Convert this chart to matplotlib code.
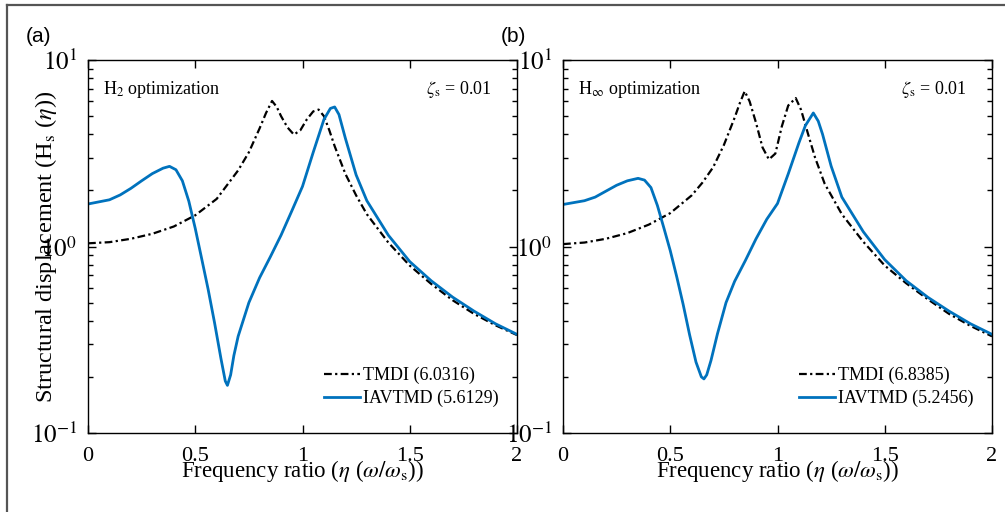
import math
import matplotlib
matplotlib.use('Agg')
import matplotlib.pyplot as plt
from matplotlib.lines import Line2D
from matplotlib.ticker import LogLocator, FixedLocator, FuncFormatter

plt.rcParams['font.family'] = ['Liberation Serif', 'DejaVu Serif']
plt.rcParams['mathtext.fontset'] = 'stix'

# Panel (a): H2 optimization
xa_tmdi = [0, 0.1, 0.2, 0.3, 0.4, 0.5, 0.6, 0.7, 0.75, 0.8, 0.83, 0.858, 0.88, 0.9,
           0.93, 0.96, 0.99, 1.02, 1.05, 1.075, 1.1, 1.125, 1.15, 1.2, 1.25, 1.3,
           1.4, 1.5, 1.6, 1.7, 1.8, 1.9, 2.0]
ya_tmdi = [1.04, 1.055, 1.10, 1.17, 1.28, 1.47, 1.80, 2.56, 3.2, 4.3, 5.2, 6.03, 5.6, 5.0,
           4.35, 3.98, 4.2, 4.8, 5.3, 5.42, 5.0, 4.2, 3.45, 2.45, 1.88, 1.49,
           1.05, 0.79, 0.63, 0.515, 0.435, 0.378, 0.335]
xa_iav = [0, 0.1, 0.15, 0.2, 0.25, 0.3, 0.35, 0.38, 0.41, 0.44, 0.47, 0.5, 0.53, 0.56,
          0.59, 0.62, 0.64, 0.65, 0.665, 0.68, 0.7, 0.75, 0.8, 0.85, 0.9, 0.95, 1.0,
          1.05, 1.1, 1.13, 1.15, 1.17, 1.2, 1.25, 1.3, 1.4, 1.5, 1.6, 1.7, 1.8, 1.9, 2.0]
ya_iav = [1.69, 1.78, 1.89, 2.05, 2.25, 2.46, 2.63, 2.69, 2.58, 2.25, 1.75, 1.25, 0.86, 0.59,
          0.39, 0.25, 0.19, 0.18, 0.205, 0.26, 0.33, 0.50, 0.68, 0.88, 1.15, 1.55, 2.1,
          3.2, 4.8, 5.5, 5.6, 5.1, 3.8, 2.42, 1.76, 1.15, 0.83, 0.655, 0.535, 0.45, 0.385, 0.338]

# Panel (b): H-infinity optimization
xb_tmdi = [0, 0.1, 0.2, 0.3, 0.4, 0.5, 0.6, 0.65, 0.7, 0.75, 0.8, 0.825, 0.847, 0.87, 0.9,
           0.93, 0.96, 0.99, 1.02, 1.05, 1.085, 1.11, 1.14, 1.175, 1.22, 1.3, 1.4, 1.5,
           1.6, 1.7, 1.8, 1.9, 2.0]
yb_tmdi = [1.03, 1.05, 1.10, 1.18, 1.31, 1.51, 1.88, 2.2, 2.66, 3.5, 4.9, 5.9, 6.8, 6.0, 4.6,
           3.4, 2.93, 3.15, 4.4, 5.7, 6.25, 5.4, 4.1, 3.0, 2.17, 1.49, 1.06, 0.79,
           0.635, 0.522, 0.435, 0.375, 0.33]
xb_iav = [0, 0.1, 0.15, 0.2, 0.25, 0.3, 0.35, 0.38, 0.41, 0.44, 0.47, 0.5, 0.53, 0.56,
          0.59, 0.62, 0.645, 0.657, 0.67, 0.69, 0.72, 0.76, 0.8, 0.85, 0.9, 0.95, 1.0,
          1.05, 1.1, 1.13, 1.167, 1.19, 1.21, 1.25, 1.3, 1.4, 1.5, 1.6, 1.7, 1.8, 1.9, 2.0]
yb_iav = [1.68, 1.76, 1.84, 1.98, 2.13, 2.25, 2.32, 2.27, 2.07, 1.66, 1.26, 0.95, 0.69, 0.49,
          0.337, 0.24, 0.2, 0.195, 0.205, 0.245, 0.34, 0.5, 0.65, 0.84, 1.1, 1.4, 1.7,
          2.45, 3.6, 4.45, 5.2, 4.7, 4.0, 2.7, 1.84, 1.2, 0.85, 0.655, 0.535, 0.45, 0.385, 0.338]

panels = [
    dict(tag='(a)', opt=r'H$_{2}$ optimization', x1=xa_tmdi, y1=ya_tmdi, x2=xa_iav, y2=ya_iav,
         lab1='TMDI (6.0316)', lab2='IAVTMD (5.6129)', left=88),
    dict(tag='(b)', opt=r'H$_{\infty}$ optimization', x1=xb_tmdi, y1=yb_tmdi, x2=xb_iav, y2=yb_iav,
         lab1='TMDI (6.8385)', lab2='IAVTMD (5.2456)', left=563),
]

W, H = 1005, 512
fig = plt.figure(figsize=(W / 100, H / 100), dpi=100)

# outer frame (top and left edges)
fig.add_artist(Line2D([7 / W, 1], [1 - 5 / H, 1 - 5 / H], color='#555555', lw=1.6))
fig.add_artist(Line2D([7 / W, 7 / W], [0, 1 - 5 / H], color='#555555', lw=1.6))

blue = '#0072BD'


def log_fmt(v, pos):
    return r'$10^{%d}$' % int(round(math.log10(v)))


for i, p in enumerate(panels):
    ax = fig.add_axes([p['left'] / W, 1 - 433 / H, 429 / W, 373 / H])
    ax.plot(p['x1'], p['y1'], color='black', lw=1.6, dashes=(3.5, 1.5, 1, 1.5), label=p['lab1'])
    ax.plot(p['x2'], p['y2'], color=blue, lw=2.0, label=p['lab2'])
    ax.set_yscale('log')
    ax.set_xlim(0, 2)
    ax.set_ylim(0.1, 10)
    ax.xaxis.set_major_locator(FixedLocator([0, 0.5, 1, 1.5, 2]))
    ax.xaxis.set_major_formatter(FuncFormatter(lambda v, pos: '%g' % v))
    ax.yaxis.set_major_locator(LogLocator(base=10, numticks=5))
    ax.yaxis.set_major_formatter(FuncFormatter(log_fmt))
    ax.yaxis.set_minor_locator(LogLocator(base=10, subs=range(2, 10), numticks=10))
    ax.tick_params(which='both', direction='in', top=True, right=True, width=1.0)
    ax.tick_params(which='major', length=6)
    ax.tick_params(which='minor', length=3.5)
    ax.tick_params(axis='x', which='major', labelsize=16, pad=10)
    ax.tick_params(axis='y', which='major', labelsize=18, pad=8)
    for s in ax.spines.values():
        s.set_linewidth(1.0)

    ax.set_xlabel(r'Frequency ratio ($\eta$ ($\omega/\omega_{\mathrm{s}}$))', fontsize=16.5,
                  labelpad=-6)
    if i == 0:
        ax.set_ylabel(r'Structural displacement (H$_{\mathrm{s}}$ ($\eta$))', fontsize=17.5,
                      va='center')
        ax.yaxis.set_label_coords(-0.098, 0.5)

    ax.text(0.035, 0.92, p['opt'], transform=ax.transAxes, fontsize=13, va='center', ha='left')
    ax.text(0.94, 0.92, r'$\zeta_{\mathrm{s}}$ = 0.01', transform=ax.transAxes, fontsize=13,
            va='center', ha='right')
    ax.legend(loc='lower right', frameon=False, fontsize=13, handlelength=2.0,
              handletextpad=0.15, labelspacing=0.3, borderaxespad=0, borderpad=0,
              bbox_to_anchor=(0.957, 0.07))

    fig.text((p['left'] - 62) / W, 1 - 36 / H, p['tag'], fontsize=15, va='center', ha='left',
             family=['Liberation Sans', 'DejaVu Sans'])

fig.savefig('out.png', dpi=100)
